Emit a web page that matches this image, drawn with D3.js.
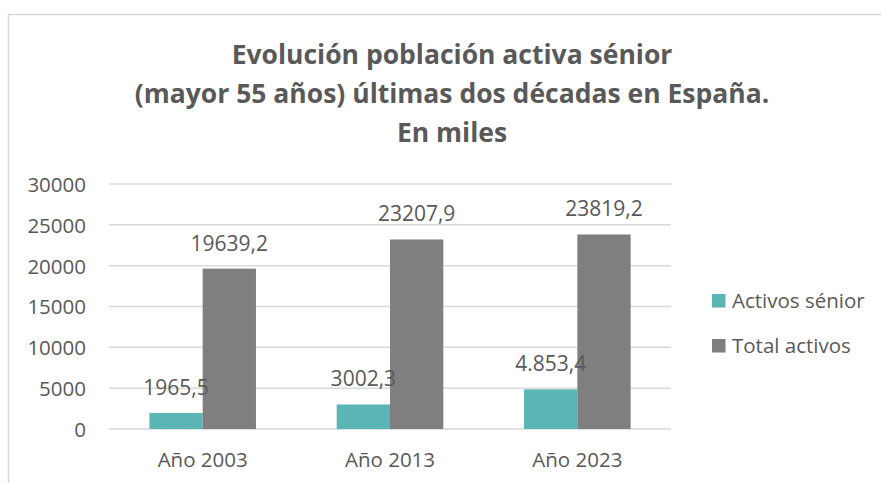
<!DOCTYPE html>
<html>
<head>
<meta charset="utf-8">
<script src="https://cdn.jsdelivr.net/npm/d3@7"></script>
<style>
  html, body { margin: 0; padding: 0; background: #fff; }
  svg text { font-family: "Open Sans", sans-serif; fill: #595959; }
</style>
</head>
<body>
<div id="chart"></div>
<script>
const categories = ['Año 2003', 'Año 2013', 'Año 2023'];
const seriesNames = ['Activos sénior', 'Total activos'];
const senior = [1965.5, 3002.3, 4853.4];
const total = [19639.2, 23207.9, 23819.2];
const seniorLabels = ['1965,5', '3002,3', '4.853,4'];
const totalLabels = ['19639,2', '23207,9', '23819,2'];
const yTicks = [0, 5000, 10000, 15000, 20000, 25000, 30000];
const titleLines = [
  'Evolución población activa sénior',
  '(mayor 55 años) últimas dos décadas en España.',
  'En miles'
];

const W = 881, H = 483;
const colors = ['#5bb5b5', '#7f7f7f'];
const margin = { top: 184, right: 210, bottom: 54, left: 109 };

const svg = d3.select('#chart').append('svg')
  .attr('width', W).attr('height', H);

// outer frame
svg.append('rect')
  .attr('x', 8.5).attr('y', 14.5)
  .attr('width', W + 20).attr('height', H + 20)
  .attr('fill', 'none').attr('stroke', '#d9d9d9').attr('stroke-width', 1.5);

// title
const title = svg.append('g').attr('class', 'title');
title.selectAll('text')
  .data(titleLines)
  .join('text')
  .attr('x', 452)
  .attr('y', (d, i) => 64 + i * 39)
  .attr('text-anchor', 'middle')
  .style('font-size', '26.5px')
  .style('font-weight', 700)
  .text(d => d);

const width = W - margin.left - margin.right;
const height = H - margin.top - margin.bottom;

const x0 = d3.scaleBand().domain(categories).range([0, width]).paddingInner(0).paddingOuter(0);
const groupW = 106.6;
const x1 = d3.scaleBand().domain(seriesNames).range([0, groupW]);
const y = d3.scaleLinear().domain([0, 30000]).range([height, 0]);

const plot = svg.append('g').attr('transform', `translate(${margin.left},${margin.top})`);

// gridlines
plot.append('g').attr('class', 'grid')
  .selectAll('line')
  .data(yTicks)
  .join('line')
  .attr('x1', 0).attr('x2', width)
  .attr('y1', d => y(d)).attr('y2', d => y(d))
  .attr('stroke', '#d9d9d9').attr('stroke-width', 1.5);

// y axis labels
const yAxis = plot.append('g')
  .attr('transform', 'translate(-23,0)')
  .call(d3.axisLeft(y).tickValues(yTicks).tickSize(0).tickFormat(d3.format('d')));
yAxis.select('.domain').remove();
yAxis.selectAll('text')
  .attr('x', 0)
  .attr('dy', '0.36em')
  .style('font-size', '20.5px')
  .style('font-family', '"Open Sans", sans-serif')
  .attr('fill', '#595959');

// x axis labels
const xAxis = plot.append('g')
  .attr('transform', `translate(0,${height})`)
  .call(d3.axisBottom(x0).tickSize(0));
xAxis.select('.domain').remove();
xAxis.selectAll('text')
  .attr('y', 38)
  .attr('dy', 0)
  .style('font-size', '20.5px')
  .style('font-family', '"Open Sans", sans-serif')
  .attr('fill', '#595959');

const seriesData = [senior, total];
const seriesLabels = [seniorLabels, totalLabels];

const groups = plot.append('g').attr('class', 'bars')
  .selectAll('g')
  .data(categories)
  .join('g')
  .attr('transform', d => `translate(${x0(d) + (x0.bandwidth() - groupW) / 2},0)`);

groups.selectAll('rect')
  .data((c, i) => seriesNames.map((s, k) => ({ s, k, v: seriesData[k][i] })))
  .join('rect')
  .attr('x', d => x1(d.s))
  .attr('y', d => y(d.v))
  .attr('width', x1.bandwidth())
  .attr('height', d => height - y(d.v))
  .attr('fill', d => colors[d.k]);

groups.selectAll('text.label')
  .data((c, i) => seriesNames.map((s, k) => ({ s, k, v: seriesData[k][i], t: seriesLabels[k][i] })))
  .join('text')
  .attr('class', 'label')
  .attr('x', d => x1(d.s) + x1.bandwidth() / 2)
  .attr('y', d => y(d.v) - 18)
  .attr('text-anchor', 'middle')
  .style('font-size', '21px')
  .text(d => d.t);

// legend
const legend = svg.append('g').attr('transform', 'translate(712,294)');
const items = legend.selectAll('g')
  .data(seriesNames)
  .join('g')
  .attr('transform', (d, i) => `translate(0,${i * 45})`);
items.append('rect')
  .attr('width', 13.5).attr('height', 13.5)
  .attr('fill', (d, i) => colors[i]);
items.append('text')
  .attr('x', 20)
  .attr('y', 13.5)
  .style('font-size', '20.5px')
  .text(d => d);
</script>
</body>
</html>
